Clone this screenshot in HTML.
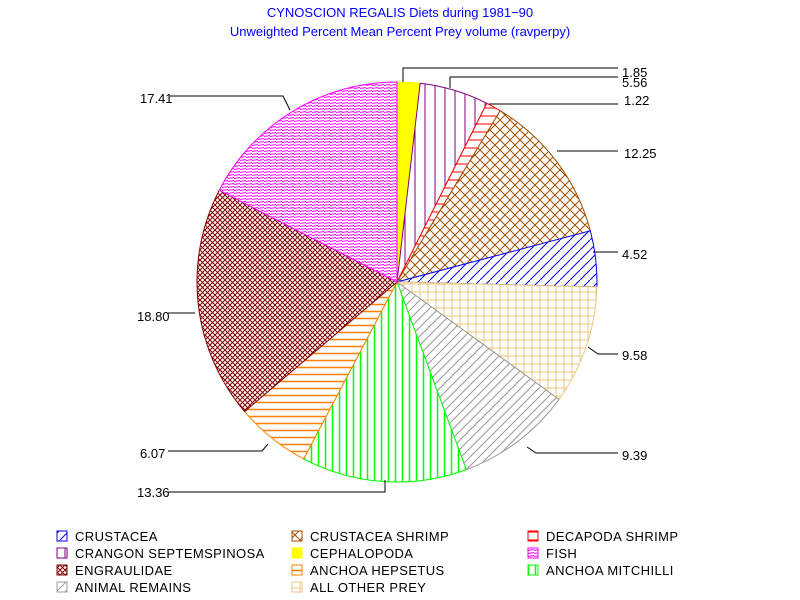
<!DOCTYPE html><html><head><style>body{margin:0;background:#fff}svg{display:block}text{font-family:"Liberation Sans",sans-serif;font-size:13px}#leg text{letter-spacing:0.4px}</style></head><body>
<svg id="s" width="800" height="600" xmlns="http://www.w3.org/2000/svg">
<defs>
<pattern id="pF" width="6" height="3" patternUnits="userSpaceOnUse"><rect width="6" height="3" fill="#fff"/><path d="M0 1.5L6 0.5" stroke="#f0f" stroke-width="1"/></pattern>
<pattern id="pE" width="5" height="5" patternUnits="userSpaceOnUse"><rect width="5" height="5" fill="#fff"/><path d="M0 0L5 5M5 0L0 5" stroke="#800000" stroke-width="1"/></pattern>
<pattern id="pH" width="8" height="7" patternUnits="userSpaceOnUse"><rect width="8" height="7" fill="#fff"/><path d="M0 3.5H8" stroke="#ff8000" stroke-width="1.5"/></pattern>
<pattern id="pM" width="7" height="8" patternUnits="userSpaceOnUse"><rect width="7" height="8" fill="#fff"/><path d="M3.5 0V8" stroke="#00ff00" stroke-width="1.5"/></pattern>
<pattern id="pA" width="9" height="9" patternUnits="userSpaceOnUse"><rect width="9" height="9" fill="#fff"/><path d="M0 9L9 0M-2 2L2 -2M7 11L11 7" stroke="#999" stroke-width="1"/></pattern>
<pattern id="pO" width="8" height="8" patternUnits="userSpaceOnUse"><rect width="8" height="8" fill="#fff"/><path d="M0 4H8M4 0V8" stroke="#e8c880" stroke-width="1"/></pattern>
<pattern id="pC" width="10" height="10" patternUnits="userSpaceOnUse"><rect width="10" height="10" fill="#fff"/><path d="M0 10L10 0" stroke="#00f" stroke-width="1"/></pattern>
<pattern id="pS" width="10" height="10" patternUnits="userSpaceOnUse"><rect width="10" height="10" fill="#fff"/><path d="M0 0L10 10M10 0L0 10" stroke="#a05000" stroke-width="1"/></pattern>
<pattern id="pD" width="8" height="8" patternUnits="userSpaceOnUse"><rect width="8" height="8" fill="#fff"/><path d="M0 4H8" stroke="#f00" stroke-width="1"/></pattern>
<pattern id="pG" width="10" height="10" patternUnits="userSpaceOnUse"><rect width="10" height="10" fill="#fff"/><path d="M5 0V10" stroke="#800080" stroke-width="1"/></pattern>
</defs>
<text x="400" y="17" text-anchor="middle" fill="#0000ff">CYNOSCION REGALIS Diets during 1981−90</text>
<text x="400" y="36" text-anchor="middle" fill="#0000ff">Unweighted Percent Mean Percent Prey  volume (ravperpy)</text>
<g id="pie"></g>
<g fill="#000">
<text x="622" y="77">1.85</text><text x="622" y="87">5.56</text><text x="624" y="105">1.22</text>
<text x="624" y="158">12.25</text><text x="622" y="259">4.52</text><text x="622" y="360">9.58</text>
<text x="622" y="460">9.39</text><text x="140" y="458">6.07</text><text x="137" y="497">13.36</text>
<text x="137" y="321">18.80</text><text x="140" y="103">17.41</text>
</g>
<g stroke="#000" fill="none">
<path d="M403 82V68H618"/><path d="M450 88V77H618"/><path d="M489 104H618"/>
<path d="M557 151H618"/><path d="M593 252H618"/><path d="M588 347L598 354H618"/>
<path d="M527 447L536 453H618"/><path d="M268 444L262 451H168"/><path d="M385 480V492H168"/>
<path d="M195 313H168"/><path d="M290 110L283 96H170"/>
</g>
<g id="leg"></g>
</svg>
<script>
var cx=397,cy=282,r=200;
var d=[["CEPHALOPODA",1.85,"#ff0","#ff0"],["CRANGON SEPTEMSPINOSA",5.56,"url(#pG)","#800080"],["DECAPODA SHRIMP",1.22,"url(#pD)","#f00"],["CRUSTACEA SHRIMP",12.25,"url(#pS)","#a05000"],["CRUSTACEA",4.52,"url(#pC)","#00f"],["ALL OTHER PREY",9.58,"url(#pO)","#e8c880"],["ANIMAL REMAINS",9.39,"url(#pA)","#999"],["ANCHOA MITCHILLI",13.36,"url(#pM)","#00ff00"],["ANCHOA HEPSETUS",6.07,"url(#pH)","#ff8000"],["ENGRAULIDAE",18.80,"url(#pE)","#800000"],["FISH",17.41,"url(#pF)","#f0f"]];
var a=0,h="";function P(t){return (cx+r*Math.sin(t)).toFixed(1)+" "+(cy-r*Math.cos(t)).toFixed(1)}
d.forEach(function(e){var b=a+e[1]/100.01*2*Math.PI;h+='<path d="M'+cx+' '+cy+'L'+P(a)+'A'+r+' '+r+' 0 '+((b-a)>Math.PI?1:0)+' 1 '+P(b)+'Z" fill="'+e[2]+'" stroke="'+e[3]+'" stroke-width="1"/>';a=b;});
document.getElementById("pie").innerHTML=h;
var L=[["CRUSTACEA",4],["CRUSTACEA SHRIMP",3],["DECAPODA SHRIMP",2],["CRANGON SEPTEMSPINOSA",1],["CEPHALOPODA",0],["FISH",10],["ENGRAULIDAE",9],["ANCHOA HEPSETUS",8],["ANCHOA MITCHILLI",7],["ANIMAL REMAINS",6],["ALL OTHER PREY",5]];
var xs=[57,292,528],g="";
L.forEach(function(e,i){var c=i%3,rw=Math.floor(i/3),x=xs[c],y=531+rw*17,s=d[e[1]];
g+='<rect x="'+x+'" y="'+y+'" width="10" height="10" fill="'+s[2]+'" stroke="'+s[3]+'"/><text x="'+(x+18)+'" y="'+(y+10)+'">'+e[0]+'</text>';});
document.getElementById("leg").innerHTML=g;
</script>
</body></html>
